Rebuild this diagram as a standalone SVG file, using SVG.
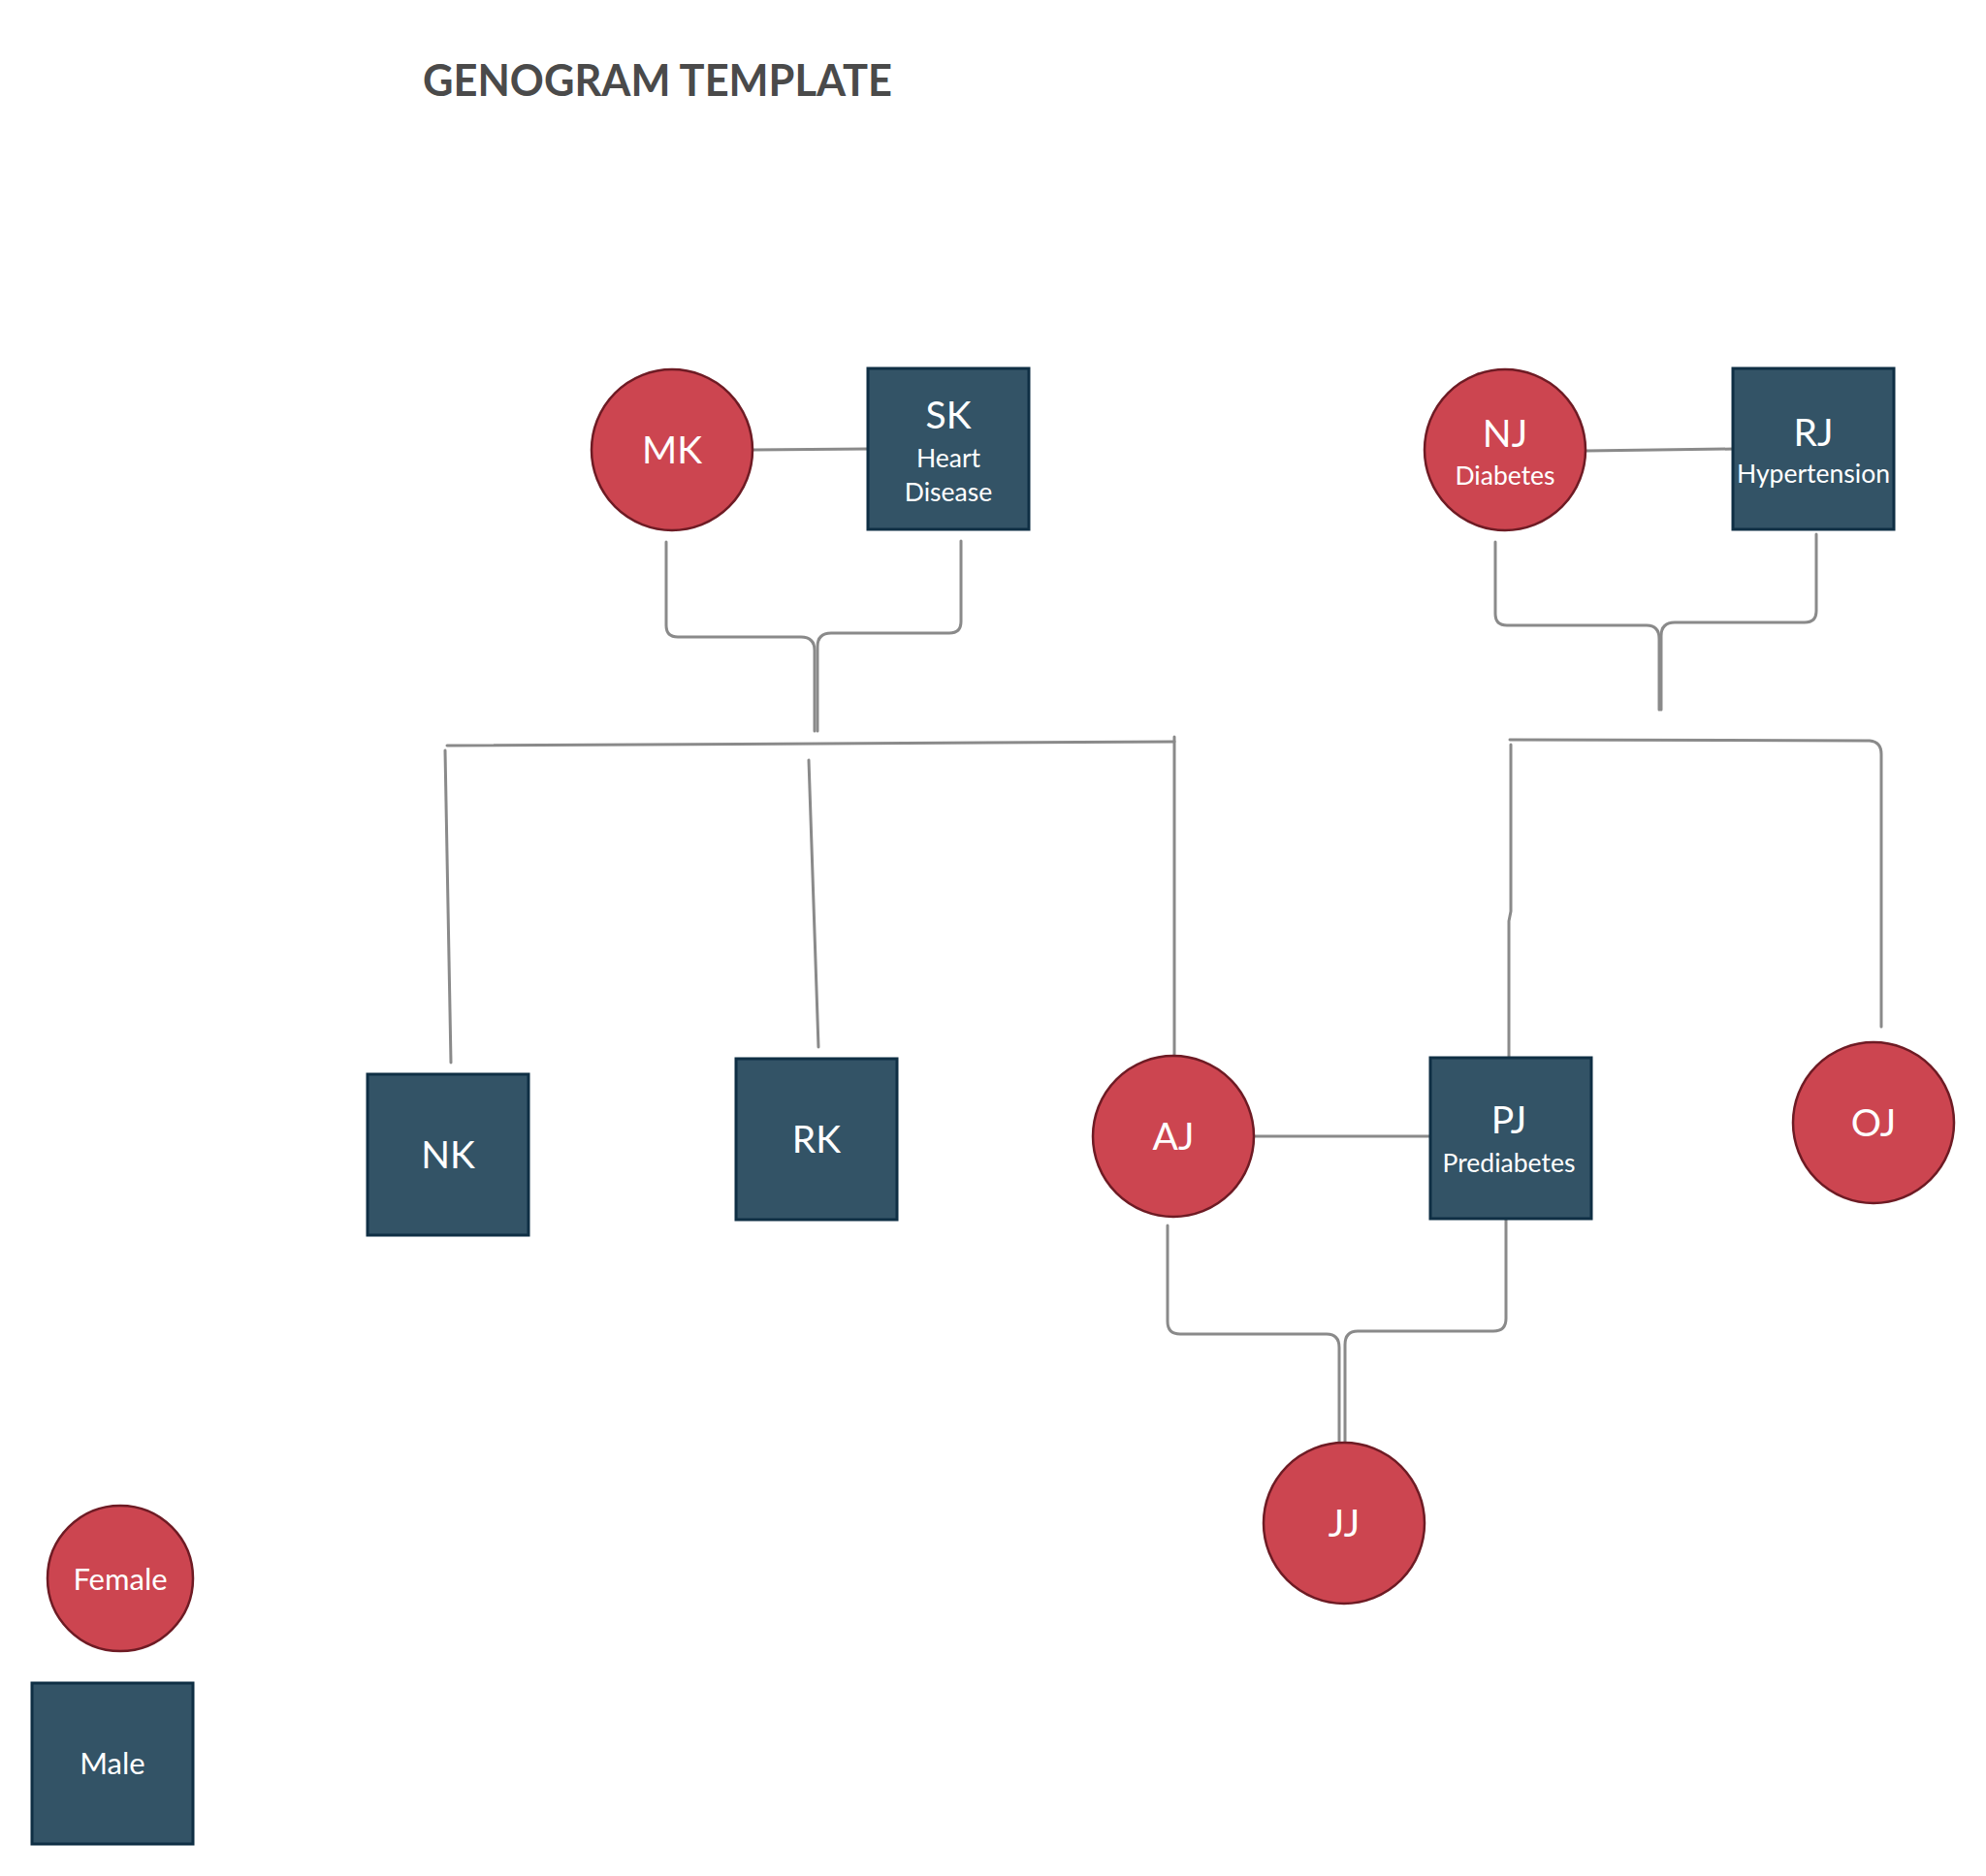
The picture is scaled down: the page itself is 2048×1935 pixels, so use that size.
<svg xmlns="http://www.w3.org/2000/svg" width="2048" height="1935" viewBox="0 0 2048 1935">
<style>
text{font-family:Lato,"Liberation Sans",sans-serif;fill:#ffffff;text-anchor:middle}
.title{fill:#4a4a4a;font-weight:bold;font-size:45px;text-anchor:start}
.f{fill:#cc4550;stroke:#6e1b24;stroke-width:2.5}
.m{fill:#335366;stroke:#0f2f44;stroke-width:3}
.n{font-size:39px}
.s{font-size:26.5px}
.lg{font-size:31px}
.c{fill:none;stroke:#8a8a8a;stroke-width:3;stroke-linecap:round;stroke-linejoin:round}
</style>
<rect width="2048" height="1935" fill="#ffffff"/>
<text class="title" x="436" y="99" textLength="484" lengthAdjust="spacingAndGlyphs">GENOGRAM TEMPLATE</text>
<g id="connectors">
<path class="c" d="M776,464 L895,463"/>
<path class="c" d="M687,559 V645 Q687,657 699,657 H826 Q840,657 840,671 V754"/>
<path class="c" d="M991,558 V641 Q991,653 979,653 H857 Q843,653 843,667 V754"/>
<path class="c" d="M1635,465 L1788,463"/>
<path class="c" d="M1542,559 V633 Q1542,645 1554,645 H1698 Q1711,645 1711,659 V732"/>
<path class="c" d="M1873,551 V630 Q1873,642 1861,642 H1727 Q1713,642 1713,656 V732"/>
<path class="c" d="M461,769 L1211,765"/>
<path class="c" d="M459,774 L465,1096"/>
<path class="c" d="M834,784 L844,1080"/>
<path class="c" d="M1211,760 V1089"/>
<path class="c" d="M1557,763 L1928,764 Q1940,765 1940,778 V1059"/>
<path class="c" d="M1558,768 V940 L1556,950 V1090"/>
<path class="c" d="M1293,1172 H1475"/>
<path class="c" d="M1204,1264 V1363 Q1204,1376 1217,1376 H1368 Q1381,1376 1381,1390 V1489"/>
<path class="c" d="M1553,1257 V1360 Q1553,1373 1540,1373 H1400 Q1387,1373 1387,1387 V1489"/>
</g>
<g id="MK"><circle class="f" cx="693" cy="464" r="83"/><text class="n" x="693" y="478">MK</text></g>
<g id="SK"><rect class="m" x="895" y="380" width="166" height="166"/><text class="n" x="978" y="442">SK</text><text class="s" x="978" y="482">Heart</text><text class="s" x="978" y="517">Disease</text></g>
<g id="NJ"><circle class="f" cx="1552" cy="464" r="83"/><text class="n" x="1552" y="461">NJ</text><text class="s" x="1552" y="500">Diabetes</text></g>
<g id="RJ"><rect class="m" x="1787" y="380" width="166" height="166"/><text class="n" x="1870" y="460">RJ</text><text class="s" x="1870" y="498">Hypertension</text></g>
<g id="NK"><rect class="m" x="379" y="1108" width="166" height="166"/><text class="n" x="462" y="1205">NK</text></g>
<g id="RK"><rect class="m" x="759" y="1092" width="166" height="166"/><text class="n" x="842" y="1189">RK</text></g>
<g id="AJ"><circle class="f" cx="1210" cy="1172" r="83"/><text class="n" x="1210" y="1186">AJ</text></g>
<g id="PJ"><rect class="m" x="1475" y="1091" width="166" height="166"/><text class="n" x="1556" y="1169">PJ</text><text class="s" x="1556" y="1209">Prediabetes</text></g>
<g id="OJ"><circle class="f" cx="1932" cy="1158" r="83"/><text class="n" x="1932" y="1172">OJ</text></g>
<g id="JJ"><circle class="f" cx="1386" cy="1571" r="83"/><text class="n" x="1386" y="1585">JJ</text></g>
<g id="legend-female"><circle class="f" cx="124" cy="1628" r="75"/><text class="lg" x="124" y="1640">Female</text></g>
<g id="legend-male"><rect class="m" x="33" y="1736" width="166" height="166"/><text class="lg" x="116" y="1830">Male</text></g>
</svg>
